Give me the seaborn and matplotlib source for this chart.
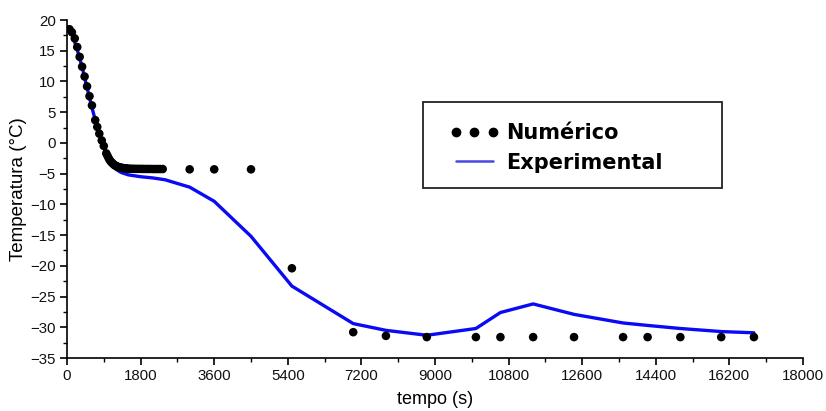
import matplotlib
matplotlib.use("Agg")
import matplotlib.pyplot as plt
from matplotlib.lines import Line2D
from matplotlib.patches import Rectangle
from matplotlib.ticker import MultipleLocator
import seaborn as sns
import pandas as pd

# Numerical model (s, °C)
tempo_numerico = [60, 120, 190, 250, 310, 370, 430, 490, 550, 610, 690, 740, 790, 850, 900,
                  960, 990, 1020, 1050, 1080, 1110, 1140, 1170, 1200, 1230, 1260, 1290, 1320,
                  1350, 1380, 1410, 1440, 1470, 1500, 1560, 1620, 1680, 1740, 1800, 1860,
                  1920, 1980, 2040, 2100, 2160, 2220, 2280, 2340,
                  3000, 3600, 4500, 5500, 7000, 7800, 8800, 10000, 10600, 11400, 12400,
                  13600, 14200, 15000, 16000, 16800]
temp_numerico = [18.5, 18.0, 17.0, 15.6, 14.0, 12.4, 10.8, 9.2, 7.6, 6.1, 3.7, 2.6, 1.5, 0.4, -0.5,
                 -1.7, -2.1, -2.5, -2.85, -3.1, -3.3, -3.5, -3.65, -3.75, -3.85, -3.92, -3.98, -4.03,
                 -4.07, -4.1, -4.13, -4.15, -4.17, -4.19, -4.2, -4.21, -4.22, -4.22, -4.23, -4.23,
                 -4.24, -4.24, -4.24, -4.25, -4.25, -4.25, -4.25, -4.25,
                 -4.3, -4.3, -4.3, -20.4, -30.8, -31.4, -31.6, -31.6, -31.6, -31.6, -31.6,
                 -31.6, -31.6, -31.6, -31.6, -31.6]

# Experimental measurements (s, °C)
tempo_experimental = [0, 120, 240, 360, 480, 600, 720, 840, 960, 1080, 1200, 1320, 1500,
                      1800, 2100, 2400, 3000, 3600, 4500, 5500, 7000, 7800, 8800, 10000,
                      10600, 11400, 12400, 13600, 14200, 15000, 16000, 16800]
temp_experimental = [18.8, 17.8, 15.4, 12.6, 9.3, 6.0, 3.0, 0.5, -1.8, -3.4, -4.3, -4.8, -5.2,
                     -5.5, -5.7, -6.0, -7.2, -9.5, -15.2, -23.3, -29.4, -30.5, -31.3, -30.2,
                     -27.6, -26.2, -27.9, -29.3, -29.7, -30.2, -30.7, -30.9]

x_ticks = [0, 1800, 3600, 5400, 7200, 9000, 10800, 12600, 14400, 16200, 18000]
y_ticks = [20, 15, 10, 5, 0, -5, -10, -15, -20, -25, -30, -35]

df_num = pd.DataFrame({"tempo": tempo_numerico, "temp": temp_numerico})
df_exp = pd.DataFrame({"tempo": tempo_experimental, "temp": temp_experimental})

sns.set_style("ticks")
plt.rcParams["font.family"] = ["Liberation Sans", "DejaVu Sans"]
plt.rcParams["text.color"] = "black"
plt.rcParams["axes.labelcolor"] = "black"

fig = plt.figure(figsize=(8.26, 4.11), dpi=100)
ax = fig.add_axes([67 / 826, 1 - 358 / 411, 736 / 826, 338 / 411])

sns.lineplot(data=df_exp, x="tempo", y="temp", ax=ax, color="#0a0af5", linewidth=2.4,
             zorder=2, legend=False)
sns.scatterplot(data=df_num, x="tempo", y="temp", ax=ax, color="black", s=38,
                edgecolor="none", zorder=3, legend=False)

ax.set_xlim(0, 18000)
ax.set_ylim(-35, 20)
ax.set_xticks(x_ticks)
ax.set_yticks(y_ticks)
ax.xaxis.set_minor_locator(MultipleLocator(900))
ax.yaxis.set_minor_locator(MultipleLocator(2.5))
ax.tick_params(which="major", length=5, width=1.2, labelsize=10.8, color="black",
               labelcolor="#111111", pad=3)
ax.tick_params(which="minor", length=3, width=1.0, color="black")
for side in ("top", "right"):
    ax.spines[side].set_visible(False)
for side in ("left", "bottom"):
    ax.spines[side].set_linewidth(1.2)
    ax.spines[side].set_color("black")

ax.set_xlabel("tempo (s)", fontsize=13, labelpad=6)
ax.set_ylabel("Temperatura (°C)", fontsize=13.5, labelpad=2)

# legend box
fig.patches.append(Rectangle((423 / 826, 1 - 188 / 411), 299 / 826, 86 / 411,
                             transform=fig.transFigure, facecolor="white",
                             edgecolor="#222222", linewidth=1.3, zorder=5))
handles = [
    Line2D([], [], linestyle="none", marker="o", markersize=6, color="black"),
    Line2D([], [], color="#4848e0", linewidth=1.8),
]
leg = fig.legend(handles, ["Numérico", "Experimental"], loc="upper left",
                 bbox_to_anchor=(439 / 826, 1 - 113 / 411), frameon=False, numpoints=3,
                 handlelength=2.4, handletextpad=0.3, labelspacing=0.45, borderpad=0,
                 prop={"family": ["DejaVu Sans"], "weight": "bold", "size": 15})
for t in leg.get_texts():
    t.set_color("black")
leg.set_zorder(6)

fig.savefig("out.png", dpi=100)
